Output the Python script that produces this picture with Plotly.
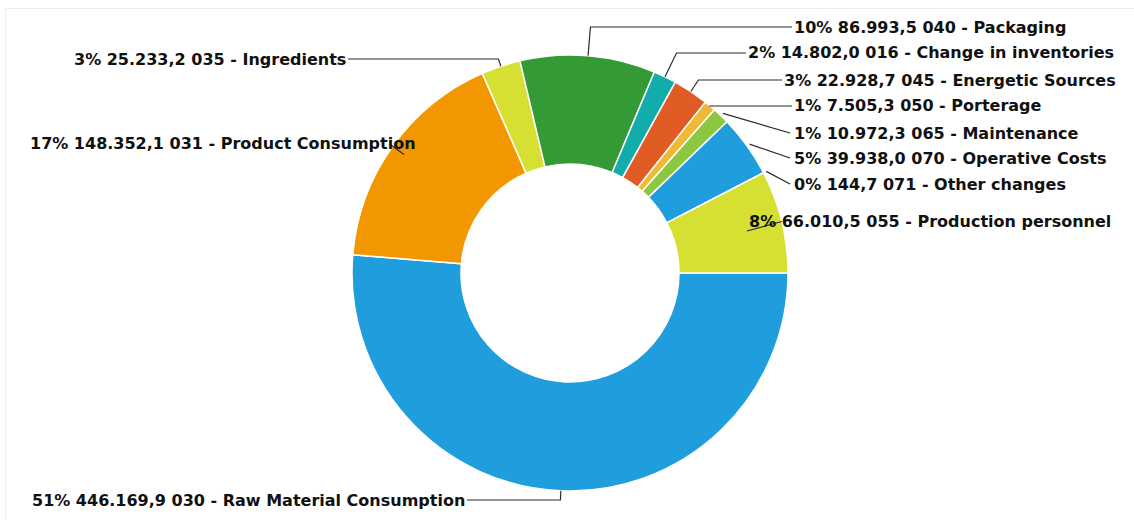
import math
import plotly.graph_objects as go

# Cost breakdown by account
codes = ["030", "031", "035", "040", "016", "045", "050", "065", "070", "071", "055"]
names = [
    "Raw Material Consumption", "Product Consumption", "Ingredients", "Packaging",
    "Change in inventories", "Energetic Sources", "Porterage", "Maintenance",
    "Operative Costs", "Other changes", "Production personnel",
]
values = [446169.9, 148352.1, 25233.2, 86993.5, 14802.0, 22928.7,
          7505.3, 10972.3, 39938.0, 144.7, 66010.5]

colors = ["#1f9ddd", "#f39700", "#d6e032", "#339a35", "#12adab", "#e05c24",
          "#eeb933", "#8dc63f", "#1f9ddd", "#e05c24", "#d6e032"]

W, H = 1134, 520
CX, CY, R = 570, 273, 218  # donut centre and outer radius, in page pixels

# label anchor (x, y), text side, connector style
label_layout = [
    (467, 500, "right", "radial"),
    (418, 143, "right", "inward"),
    (348, 59, "right", "radial"),
    (792, 27, "left", "radial"),
    (746, 53, "left", "radial"),
    (782, 80, "left", "radial"),
    (792, 106, "left", "radial"),
    (792, 133, "left", "direct"),
    (792, 158, "left", "direct"),
    (792, 184, "left", "direct"),
    (747, 221, "left", "under"),
]


def px(x):
    return x / W


def py(y):
    return 1 - y / H


def fmt_value(v):
    s = f"{v:,.1f}"
    return s.replace(",", "X").replace(".", ",").replace("X", ".")


total = sum(values)

fig = go.Figure()
fig.add_trace(go.Pie(
    values=values,
    labels=[f"{c} - {n}" for c, n in zip(codes, names)],
    sort=False,
    direction="clockwise",
    rotation=90,
    hole=0.5,
    textinfo="none",
    hoverinfo="label+value+percent",
    marker=dict(colors=colors, line=dict(color="white", width=1.5)),
    domain=dict(x=[(CX - R) / W, (CX + R) / W], y=[py(CY + R), py(CY - R)]),
    showlegend=False,
))

shapes = []
annotations = []
cum = 0.0
for v, c, n, (lx, ly, side, style) in zip(values, codes, names, label_layout):
    mid = (cum + v / 2) / total
    cum += v
    a = 2 * math.pi * mid
    ca, sa = math.cos(a), math.sin(a)
    x0, y0 = CX + R * ca, CY + R * sa
    if style == "radial":
        r1 = (ly - CY) / sa
        pts = [(x0, y0), (CX + r1 * ca, ly), (lx, ly)]
    elif style == "direct":
        pts = [(CX + (R + 3) * ca, CY + (R + 3) * sa), (lx - 2, ly)]
    elif style == "under":
        pts = [(x0, y0), (lx, ly + 10)]
    else:  # short tick pointing into the ring
        pts = [(CX + (R + 2) * ca, CY + (R + 2) * sa),
               (CX + (R - 14) * ca, CY + (R - 14) * sa)]
    path = "M " + " L ".join(f"{px(x):.5f},{py(y):.5f}" for x, y in pts)
    shapes.append(dict(type="path", path=path, xref="paper", yref="paper",
                       line=dict(color="#2a2a2a", width=1.2), layer="above"))

    pct = round(100 * v / total)
    annotations.append(dict(
        x=px(lx), y=py(ly), xref="paper", yref="paper",
        xanchor="left" if side == "left" else "right", yanchor="middle",
        text=f"{pct}% {fmt_value(v)} {c} - {n}",
        showarrow=False,
        font=dict(family="DejaVu Sans", size=16, color="#111111", weight="bold"),
    ))

# light frame around the chart area
shapes.append(dict(type="path", xref="paper", yref="paper",
                   path=f"M {px(5.5)},0 L {px(5.5)},{py(8.5)} L 1,{py(8.5)}",
                   line=dict(color="#eeeeee", width=1), layer="below"))

fig.update_layout(
    width=W, height=H,
    margin=dict(l=0, r=0, t=0, b=0),
    paper_bgcolor="white",
    plot_bgcolor="white",
    shapes=shapes,
    annotations=annotations,
)

fig.write_html("out.html")
